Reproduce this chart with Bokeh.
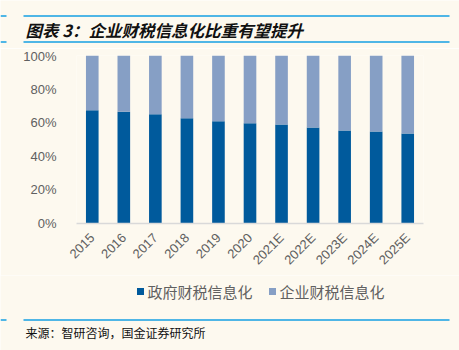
import math
from bokeh.plotting import figure
from bokeh.layouts import column
from bokeh.models import Range1d, FixedTicker, PrintfTickFormatter, ColumnDataSource
from bokeh.core.properties import value
from bokeh.embed import file_html
from bokeh.resources import INLINE

# ---- data ----
years = ["2015", "2016", "2017", "2018", "2019", "2020",
         "2021E", "2022E", "2023E", "2024E", "2025E"]
gov_share = [67.4, 66.5, 65.1, 62.7, 60.9, 59.7, 58.9, 57.1, 55.4, 54.8, 53.6]
ent_share = [round(100 - v, 1) for v in gov_share]
series_names = ["政府财税信息化", "企业财税信息化"]
series_colors = ["#005A9C", "#869FC5"]
y_ticks = [0, 20, 40, 60, 80, 100]
title_text = "图表 3：企业财税信息化比重有望提升"
source_text = "来源：智研咨询，国金证券研究所"

BG = "#FDF9EF"
LINE_BLUE = "#4FB6E6"
W = 459
CJK = value("Noto Sans CJK SC")


def blank(h):
    f = figure(width=W, height=h, x_range=Range1d(0, W), y_range=Range1d(0, h),
               output_backend="svg", toolbar_location=None, min_border=0,
               frame_align=False, title=None)
    f.axis.visible = False
    f.grid.visible = False
    f.outline_line_color = None
    f.background_fill_color = BG
    f.border_fill_color = BG
    return f


def hrule(f, h, y_top, x0, x1, color):
    # horizontal rule, y measured from the top of figure f (height h)
    f.quad(left=[x0], right=[x1], top=[h - y_top + 1], bottom=[h - y_top - 1],
           fill_color=color, line_color=None)


# ---- header ----
HH = 48
head = blank(HH)
for yy in (15.5, 41.5):
    hrule(head, HH, yy, 23, 449, LINE_BLUE)
    hrule(head, HH, yy, 0, 6, LINE_BLUE)
head.text(x=[25], y=[HH - 29.5], text=[title_text], text_baseline="middle",
          text_font=CJK, text_font_style="bold italic", text_font_size="16.5px",
          text_color="#111111")

# ---- chart ----
CH = 227
p = figure(width=W, height=CH, x_range=years, y_range=Range1d(0, 100),
           output_backend="svg", toolbar_location=None, frame_align=False, title=None,
           min_border_left=76, min_border_right=36, min_border_top=7, min_border_bottom=52)
p.x_range.range_padding = 0
src = ColumnDataSource(dict(year=years, gov=gov_share, ent=ent_share))
p.vbar_stack(["gov", "ent"], x="year", width=0.4, source=src,
             color=series_colors, line_color=None)
p.background_fill_color = BG
p.border_fill_color = BG
p.outline_line_color = None
p.grid.visible = False

p.yaxis.ticker = FixedTicker(ticks=y_ticks)
p.yaxis.formatter = PrintfTickFormatter(format="%d%%")
p.yaxis.axis_line_color = None
p.yaxis.major_tick_line_color = None
p.yaxis.minor_tick_line_color = None
p.yaxis.major_label_standoff = 14
p.yaxis.major_label_text_font = "Liberation Sans"
p.yaxis.major_label_text_font_size = "13px"
p.yaxis.major_label_text_color = "#606060"

p.xaxis.axis_line_color = "#D9D9D9"
p.xaxis.axis_line_width = 1.5
p.xaxis.major_tick_line_color = None
p.xaxis.major_label_orientation = math.pi / 4
p.xaxis.major_label_standoff = 6
p.xaxis.major_label_text_font = "Liberation Sans"
p.xaxis.major_label_text_font_size = "13px"
p.xaxis.major_label_text_color = "#606060"

# ---- footer ----
FH = 350 - HH - CH
foot = blank(FH)
leg_y = FH - (291 - (HH + CH))
foot.scatter(x=[140, 272], y=[leg_y, leg_y], marker="square", size=7,
             color=series_colors, line_color=None)
foot.text(x=[147, 279], y=[leg_y, leg_y], text=series_names, text_baseline="middle",
          text_font=CJK, text_font_size="15px", text_color="#606060")
hrule(foot, FH, 319.5 - (HH + CH), 23, 449, LINE_BLUE)
hrule(foot, FH, 319.5 - (HH + CH), 0, 6, LINE_BLUE)
foot.text(x=[25], y=[FH - (332 - (HH + CH))], text=[source_text], text_baseline="middle",
          text_font=CJK, text_font_size="12px", text_color="#111111")

layout = column(head, p, foot, spacing=0)
open("out.html", "w").write(file_html(layout, INLINE))
